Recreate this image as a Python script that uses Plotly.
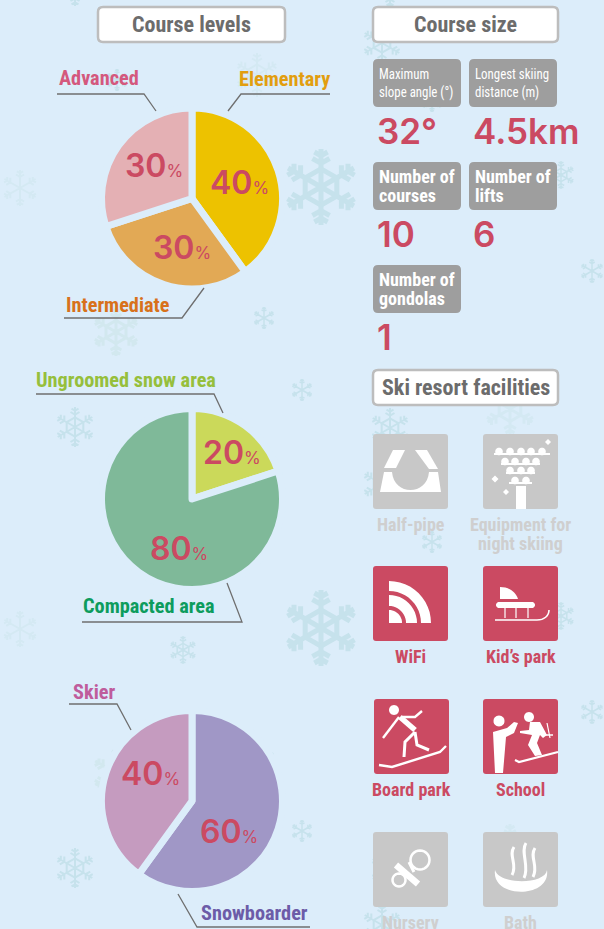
import math, re
import plotly.graph_objects as go

W, H = 604, 929
BG = "#dcedfa"
RED = "#cb4a62"
GRAY_TILE = "#c8c8c8"
STAT_TILE = "#9e9e9e"
NARROW = "'Roboto Condensed','Open Sans Condensed','Noto Sans Condensed','DejaVu Sans Condensed','Open Sans',sans-serif"
NARROWER = NARROW + ",narrowest"   # marker picked up by the page script: squeezes these two tile captions
WIDE = "Inter"

# ---- data ----
level_labels = ["Elementary", "Intermediate", "Advanced"]
level_values = [40, 30, 30]
level_colors = ["#edc200", "#e2a955", "#e4b0b4"]

snow_labels = ["Ungroomed snow area", "Compacted area"]
snow_values = [20, 80]
snow_colors = ["#cbd95a", "#7fb999"]

user_labels = ["Snowboarder", "Skier"]
user_values = [60, 40]
user_colors = ["#a097c6", "#c59bbf"]

stat_names = ["Maximum<br>slope angle (°)", "Longest skiing<br>distance (m)", "Number of<br>courses",
              "Number of<br>lifts", "Number of<br>gondolas"]
stat_values = ["32°", "4.5km", "10", "6", "1"]

facility_names = ["Half-pipe", "Equipment for<br>night skiing", "WiFi", "Kid’s park",
                  "Board park", "School", "Nursery", "Bath"]
facility_available = [False, False, True, True, True, True, False, False]

section_titles = ["Course levels", "Course size", "Ski resort facilities"]

shapes, annotations = [], []


def off(path, ox, oy):
    """Shift an M/L/C path written in local pixels by (ox, oy)."""
    out, i = [], 0
    for tok in re.findall(r"[MLCZ]|-?\d+\.?\d*", path):
        if tok in "MLCZ":
            out.append(tok)
        else:
            out.append(f"{float(tok) + (ox if i % 2 == 0 else oy):.2f}")
            i += 1
    return " ".join(out)


def rrect(x0, y0, x1, y1, r):
    return (f"M{x0+r},{y0} L{x1-r},{y0} Q{x1},{y0} {x1},{y0+r} L{x1},{y1-r} Q{x1},{y1} {x1-r},{y1} "
            f"L{x0+r},{y1} Q{x0},{y1} {x0},{y1-r} L{x0},{y0+r} Q{x0},{y0} {x0+r},{y0} Z")


def add_path(path, fill="rgba(0,0,0,0)", line="rgba(0,0,0,0)", lw=0, layer="above"):
    shapes.append(dict(type="path", path=path, xref="x", yref="y", fillcolor=fill, layer=layer,
                       line=dict(color=line, width=lw)))


def text(x, y, s, size, color, family=NARROW, anchor="center", weight=None):
    font = dict(family=family, size=size, color=color)
    if weight:
        font["weight"] = weight
    annotations.append(dict(x=x, y=y, xref="x", yref="y", text=s, showarrow=False, xanchor=anchor,
                            yanchor="middle", align=anchor, borderpad=0, font=font))


def circle_pts(cx, cy, r, n=28):
    return "M" + " L".join(f"{cx + r*math.cos(2*math.pi*k/n):.2f},{cy + r*math.sin(2*math.pi*k/n):.2f}"
                           for k in range(n)) + " Z"


def flake(x, y, r, w, ring, color):
    segs = []
    for k in range(6):
        a = math.pi / 2 + k * math.pi / 3
        ux, uy = math.cos(a), math.sin(a)
        segs.append(f"M{x:.1f},{y:.1f} L{x+r*ux:.1f},{y+r*uy:.1f}")
        for frac, blen in ((0.62, 0.26), (0.82, 0.2)):
            bx, by = x + r * frac * ux, y + r * frac * uy
            for d in (-1, 1):
                b = a + d * math.pi / 3
                segs.append(f"M{bx:.1f},{by:.1f} L{bx+r*blen*math.cos(b):.1f},{by+r*blen*math.sin(b):.1f}")
    add_path(" ".join(segs), line=color, lw=w, layer="below")
    if ring:
        rr = r * 0.48
        pts = [(x + rr*math.cos(math.pi/6 + k*math.pi/3), y + rr*math.sin(math.pi/6 + k*math.pi/3)) for k in range(6)]
        add_path("M" + " L".join(f"{a:.1f},{b:.1f}" for a, b in pts) + " Z", line=color, lw=w, layer="below")


# ---- background snowflakes (pattern repeats down the page) ----
C1, C2, C3 = "#c6e2ec", "#d2e8ef", "#d4e9f3"
flakes = [(321, 187, 38, 5, True, C1), (75, 427, 20, 2, True, C1), (20, 188, 18, 2, False, C3),
          (264, 318, 11, 1.5, False, C1), (116, 332, 24, 3, True, C2), (257, 75, 22, 2, True, C3),
          (302, 390, 11, 1.5, False, C1), (592, 271, 12, 1.5, False, C1), (183, 650, 14, 1.5, True, C1),
          (117, 80, 11, 1.5, False, C1), (510, 409, 26, 3, True, C3), (432, 101, 11, 1.5, False, C1),
          (561, 175, 14, 1.5, True, C1), (382, 484, 20, 2, True, C1), (390, 428, 20, 2, True, C1)]
for fx, fy, fr, fw, fring, fc in flakes:
    for shift in (-441, 0, 441):
        if -fr < fy + shift < H + fr:
            flake(fx, fy + shift, fr, fw, fring, fc)

fig = go.Figure()
fig.add_trace(go.Scatter(x=[0], y=[0], mode="markers", marker=dict(opacity=0), hoverinfo="skip", showlegend=False))

# ---- pies ----
R = 90.5
GAP = 7
for (labels, values, colors, cx, cy) in [
    (level_labels, level_values, level_colors, 192, 198.5),
    (snow_labels, snow_values, snow_colors, 192, 499),
    (user_labels, user_values, user_colors, 192, 801),
]:
    fig.add_trace(go.Pie(labels=labels, values=values, sort=False, direction="clockwise", rotation=0,
                         textinfo="none", hoverinfo="label+percent", showlegend=False,
                         marker=dict(colors=colors, line=dict(color=BG, width=GAP)),
                         domain=dict(x=[(cx - R) / W, (cx + R) / W], y=[1 - (cy + R) / H, 1 - (cy - R) / H])))


def pct(x, y, v):
    text(x, y, f"{v}<span style='font-size:17px;font-weight:400'>%</span>", 32, RED, WIDE, weight=600)


pct(154, 165, level_values[2]); pct(239.5, 182, level_values[0]); pct(182, 247, level_values[1])
pct(231.5, 452, snow_values[0]); pct(179, 548, snow_values[1])
pct(150, 773, user_values[1]); pct(228.5, 831, user_values[0])

# ---- leader lines ----
LINE = "#6f6f6f"
for pts in ["M57,94 L144,94 L156,111", "M330,94 L241,94 L228,111", "M64,318 L182,318 L204,288",
            "M36,394 L214,394 L223,413", "M82,622 L242,622 L227,583", "M69,704 L117,704 L131,730",
            "M310,927 L197,927 L178,894"]:
    add_path(pts, line=LINE, lw=1.3)

LABEL = 20.3
text(99, 78, f"<b>{level_labels[2]}</b>", LABEL, "#d4587d")
text(284.5, 79, f"<b>{level_labels[0]}</b>", LABEL, "#e29e0f")
text(117.5, 305, f"<b>{level_labels[1]}</b>", LABEL, "#d8711b")
text(125.5, 380, f"<b>{snow_labels[0]}</b>", LABEL, "#96bf3c")
text(149, 606, f"<b>{snow_labels[1]}</b>", LABEL, "#0d9c5d")
text(93.5, 692, f"<b>{user_labels[1]}</b>", LABEL, "#bf5c9c")
text(254.5, 913, f"<b>{user_labels[0]}</b>", LABEL, "#6c5ca8")

# ---- section headings ----
for (x0, y0, x1, y1), title in zip([(98, 7, 285, 42), (373, 7, 558, 42), (373, 370, 558, 405)], section_titles):
    add_path(rrect(x0, y0, x1, y1, 5), fill="#ffffff", line="#bdbdbd", lw=2.5)
    text((x0 + x1) / 2, (y0 + y1) / 2, f"<b>{title}</b>", 22, "#6c6c6c")

# ---- course size tiles ----
stat_boxes = [(373, 59), (469, 59), (373, 162), (469, 162), (373, 265)]
for i, ((x0, y0), name, val) in enumerate(zip(stat_boxes, stat_names, stat_values)):
    add_path(rrect(x0, y0, x0 + 88, y0 + 48, 5), fill=STAT_TILE)
    lines = name.split("<br>")
    size, yy, fam = (15, (14.5, 32.5), NARROWER) if i < 2 else (18, (14, 33), NARROW)
    for ln, dy in zip(lines, yy):
        s = ln if i < 2 else f"<b>{ln}</b>"
        text(x0 + 5, y0 + dy, s, size, "#ffffff", family=fam, anchor="left")
    text(x0 + 3, y0 + 72, val, 35, RED, WIDE, anchor="left", weight=600)

# ---- facility tiles and icons ----
WHITE = "#ffffff"


def thick(path, ox, oy, w):
    add_path(off(path, ox, oy), line=WHITE, lw=w)


def solid(path, ox, oy):
    add_path(off(path, ox, oy), fill=WHITE)


def dot(cx, cy, r, ox, oy):
    add_path(circle_pts(cx + ox, cy + oy, r), fill=WHITE)


def icon_halfpipe(ox, oy):
    solid("M20,16 L32,16 L23,34 L11,34 Z", ox, oy)
    solid("M42,16 L54,16 L65,35 L56,35 Z", ox, oy)
    solid("M11,38 L19,38 C21,62 54,62 56,38 L65,38 L68,58 L7,58 Z", ox, oy)


def icon_tower(ox, oy):
    rows = [(11, 67, 19, (16, 27, 38, 48, 59)), (18, 57, 29, (22, 32, 43, 53)),
            (23, 52, 38, (27, 38, 48)), (26, 49, 48, (32, 43))]
    for a, b, y, xs in rows:
        solid(f"M{a},{y} L{b},{y} L{b},{y+2} L{a},{y+2} Z", ox, oy)
        for xx in xs:
            dot(xx, y - 1.5, 3.8, ox, oy)
    solid("M33,52 L43,52 L43,75 L33,75 Z", ox, oy)
    for sx, sy, s in [(65, 8, 3), (12, 45, 3.5), (23, 58, 3)]:
        solid(f"M{sx},{sy-s} L{sx+s},{sy} L{sx},{sy+s} L{sx-s},{sy} Z", ox, oy)


def icon_wifi(ox, oy):
    cx, cy = 16, 57
    for r0, r1 in [(0, 13), (17, 28), (32, 42)]:
        outer = [(cx + r1 * math.sin(t * math.pi / 24), cy - r1 * math.cos(t * math.pi / 24)) for t in range(13)]
        inner = [(cx + r0 * math.sin(t * math.pi / 24), cy - r0 * math.cos(t * math.pi / 24)) for t in range(12, -1, -1)]
        solid("M" + " L".join(f"{a:.1f},{b:.1f}" for a, b in outer + inner) + " Z", ox, oy)


def icon_sled(ox, oy):
    solid("M17,21 L17,33 L35,33 C33,26 26,21 17,21 Z", ox, oy)
    thick("M16,39 L49,39", ox, oy, 6)
    dot(16, 39, 3, ox, oy); dot(49, 39, 3, ox, oy)
    for xx in (22, 33, 45):
        thick(f"M{xx},42 L{xx},52", ox, oy, 1.2)
    thick("M12,54 L54,54 C61,54 66,50 66,44", ox, oy, 1.6)


def icon_board(ox, oy):
    dot(20, 11, 5, ox, oy)
    thick("M26,18 L41,31", ox, oy, 5.5)
    thick("M29,18 L41,18 L48,12", ox, oy, 2.4)
    thick("M25,18 L9,39", ox, oy, 2.4)
    thick("M41,33 L31,43 L30,58", ox, oy, 3)
    thick("M41,33 L43,46 L55,51", ox, oy, 3)
    thick("M5,66 L18,68 L66,53 L72,47", ox, oy, 2.4)


def icon_school(ox, oy):
    dot(16, 22, 5.5, ox, oy)
    solid("M10,33 L24,29 L31,23 L35,24 L31,34 L23,38 L20,74 L12,74 Z", ox, oy)
    dot(46, 18, 5, ox, oy)
    solid("M47,23 L57,23 L64,36 L60,39 L57,36 L54,44 L59,56 L52,57 L45,46 L49,36 L37,34 L37,32 L46,31 Z", ox, oy)
    thick("M64,24 L67,39", ox, oy, 1.2)
    thick("M62,36 L70,36", ox, oy, 1.5)
    thick("M32,61 L36,63 L75,53", ox, oy, 2.2)


def icon_nursery(ox, oy):
    add_path(circle_pts(47 + ox, 28 + oy, 9.5), fill=GRAY_TILE, line=WHITE, lw=2.5)
    add_path(circle_pts(26 + ox, 48 + oy, 6.5), fill=GRAY_TILE, line=WHITE, lw=2.5)
    thick("M36,30 L41,40", ox, oy, 3)
    thick("M23,33 L45,52", ox, oy, 6.5)


def icon_bath(ox, oy):
    for x0, top, bot in [(29, 15, 43), (41, 11, 46), (50, 16, 45)]:
        thick(f"M{x0+2},{top} C{x0-4},{top+9} {x0+6},{bot-11} {x0},{bot}", ox, oy, 3)
    solid("M12,38 C8,67 68,67 64,38 C62,53 16,53 12,38 Z", ox, oy)


icons = [icon_halfpipe, icon_tower, icon_wifi, icon_sled, icon_board, icon_school, icon_nursery, icon_bath]
tiles = [(373, 434), (483, 434), (373, 566), (483, 566), (374, 699), (483, 699), (373, 832), (483, 832)]
for (x0, y0), name, on, icon in zip(tiles, facility_names, facility_available, icons):
    add_path(rrect(x0, y0, x0 + 75, y0 + 75, 3), fill=RED if on else GRAY_TILE)
    icon(x0, y0)
    col = RED if on else "#cfcfcf"
    for j, ln in enumerate(name.split("<br>")):
        text(x0 + 37.5, y0 + 90 + j * 19, f"<b>{ln}</b>", 18, col)

fig.update_layout(
    width=W, height=H, margin=dict(l=0, r=0, t=0, b=0), autosize=False,
    paper_bgcolor=BG, plot_bgcolor=BG, showlegend=False,
    xaxis=dict(range=[0, W], visible=False, fixedrange=True),
    yaxis=dict(range=[H, 0], visible=False, fixedrange=True),
    shapes=shapes, annotations=annotations,
)
page_script = """
document.body.style.margin='0';
document.documentElement.style.background='%s';
document.querySelectorAll('.annotation-text').forEach(function(t){
  if ((t.style.fontFamily||'').indexOf('narrowest')>=0) {
    t.style.transformBox='fill-box';
    t.style.transformOrigin='left center';
    t.style.transform='scaleX(0.86)';
  }
});
""" % BG
fig.write_html("out.html", config=dict(displayModeBar=False), post_script=page_script)
